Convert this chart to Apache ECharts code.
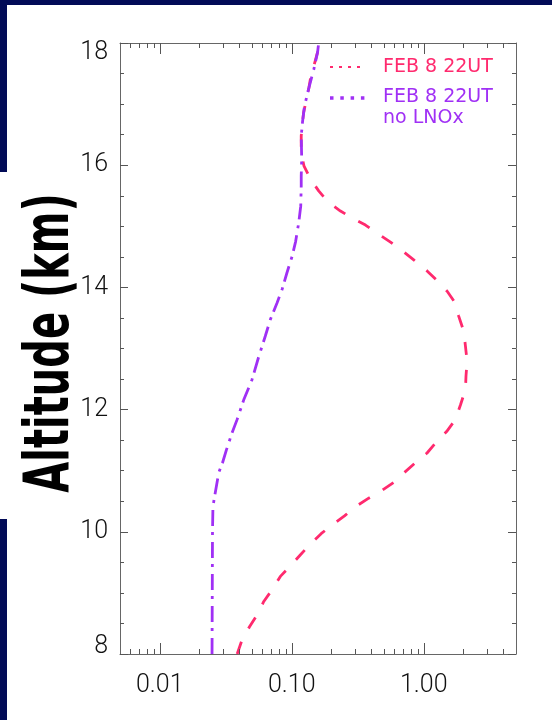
<!DOCTYPE html>
<html><head><meta charset="utf-8">
<script src="https://cdn.jsdelivr.net/npm/echarts@6/dist/echarts.min.js"></script>
<style>html,body{margin:0;padding:0;background:#fff}#c{width:552px;height:720px}</style>
</head><body><div id="c"></div>
<script>
// ---- data ----
const altWith = [8.0, 8.23, 8.45, 8.64, 8.86, 9.05, 9.27, 9.43, 9.62, 9.79, 9.97, 10.11, 10.26, 10.41, 10.55, 10.66, 10.81, 10.96, 11.13, 11.29, 11.48, 11.64, 11.84, 12.08, 12.33, 12.55, 12.79, 13.04, 13.28, 13.53, 13.78, 13.94, 14.12, 14.27, 14.45, 14.6, 14.74, 14.87, 15.02, 15.12, 15.25, 15.39, 15.58, 15.77, 15.99, 16.2, 16.48, 16.73, 16.86, 17.27, 17.43, 17.85, 18.0];
const valWith = [0.0386, 0.042, 0.048, 0.0547, 0.0614, 0.071, 0.082, 0.0966, 0.116, 0.137, 0.167, 0.202, 0.251, 0.304, 0.383, 0.47, 0.593, 0.705, 0.865, 1.06, 1.26, 1.49, 1.74, 1.90, 2.07, 2.09, 2.13, 2.07, 2.01, 1.84, 1.69, 1.50, 1.25, 1.06, 0.84, 0.686, 0.56, 0.456, 0.362, 0.295, 0.234, 0.19, 0.160, 0.139, 0.1237, 0.118, 0.118, 0.121, 0.123, 0.135, 0.139, 0.157, 0.160];
const altNo = [8.0, 9.0, 10.0, 10.41, 10.57, 10.97, 11.13, 11.34, 11.62, 11.84, 12.16, 12.49, 12.87, 13.2, 13.48, 13.75, 13.97, 14.24, 14.51, 14.75, 15.06, 15.33, 15.66, 15.82, 16.1, 16.48, 16.73, 16.97, 17.27, 17.57, 17.85, 18.0];
const valNo = [0.0249, 0.025, 0.0251, 0.0253, 0.026, 0.028, 0.0299, 0.032, 0.0353, 0.0386, 0.0433, 0.050, 0.0563, 0.063, 0.069, 0.0775, 0.0846, 0.092, 0.1007, 0.107, 0.113, 0.117, 0.118, 0.118, 0.119, 0.118, 0.121, 0.125, 0.135, 0.147, 0.157, 0.160];
const seriesNames = ['FEB 8 22UT', 'FEB 8 22UT\nno LNOx'];
const yTitle = 'Altitude (km)';
const xMajorTicks = [0.01, 0.1, 1];
const xTickLabels = ['0.01', '0.10', '1.00'];
const xMinorTicks = [0.006, 0.007, 0.008, 0.009, 0.02, 0.03, 0.04, 0.05, 0.06, 0.07, 0.08, 0.09, 0.2, 0.3, 0.4, 0.5, 0.6, 0.7, 0.8, 0.9, 2, 3, 4];
const xMin = 0.005, xMax = 5;
const yMin = 8, yMax = 18, yStep = 2;

// ---- style ----
const pink = '#ff2a6e', purple = '#a030f5', navy = '#020b57';
const axisColor = '#666', tickColor = '#555', labelColor = '#111';
const labelFont = 'Roboto';

function tickSeries(values, len) {
  return {
    type: 'custom', xAxisIndex: 0, yAxisIndex: 0, silent: true, clip: false, z: 3,
    data: values.map(v => [v]),
    encode: { x: 0 },
    renderItem: (params, api) => {
      const v = api.value(0);
      const b = api.coord([v, yMin]);
      const t = api.coord([v, yMax]);
      const x = Math.round(b[0]) + 0.5;
      return { type: 'group', children: [
        { type: 'line', shape: { x1: x, y1: b[1], x2: x, y2: b[1] - len }, style: { stroke: tickColor, lineWidth: 1 } },
        { type: 'line', shape: { x1: x, y1: t[1], x2: x, y2: t[1] + len }, style: { stroke: tickColor, lineWidth: 1 } }
      ] };
    }
  };
}

const labelStyle = { fontSize: 25, fontFamily: labelFont, fontWeight: 300, color: labelColor };
const yAxisBase = {
  type: 'value', min: yMin, max: yMax, interval: yStep,
  axisLine: { show: true, lineStyle: { color: axisColor, width: 1 } },
  axisTick: { show: true, inside: true, length: 8, lineStyle: { color: tickColor } },
  minorTick: { show: true, splitNumber: 4, length: 4, lineStyle: { color: tickColor } },
  splitLine: { show: false }, minorSplitLine: { show: false }
};
const xAxisBase = {
  type: 'log', logBase: 10, min: xMin, max: xMax,
  axisLine: { show: true, lineStyle: { color: axisColor, width: 1 } },
  axisTick: { show: false }, minorTick: { show: false },
  splitLine: { show: false }, minorSplitLine: { show: false }
};

const chart = echarts.init(document.getElementById('c'), null, { renderer: 'canvas' });
chart.setOption({
  animation: false,
  backgroundColor: '#fff',
  grid: { left: 120, right: 36, top: 43, bottom: 66, containLabel: false },
  xAxis: [
    Object.assign({}, xAxisBase, {
      position: 'bottom',
      axisLabel: Object.assign({}, labelStyle, {
        margin: 19, showMinLabel: false, showMaxLabel: false,
        formatter: v => {
          const i = xMajorTicks.findIndex(t => Math.abs(Math.log10(v) - Math.log10(t)) < 1e-6);
          return i >= 0 ? xTickLabels[i] : '';
        }
      })
    }),
    Object.assign({}, xAxisBase, { position: 'top', axisLabel: { show: false } })
  ],
  yAxis: [
    Object.assign({}, yAxisBase, {
      position: 'left',
      axisLabel: Object.assign({}, labelStyle, {
        margin: 12,
        formatter: v => v === yMax ? '{top|' + v + '}' : (v === yMin ? '{bot|' + v + '}' : String(v)),
        rich: {
          top: Object.assign({}, labelStyle, { padding: [20, 0, 0, 0] }),
          bot: Object.assign({}, labelStyle, { padding: [0, 0, 14, 0] })
        }
      })
    }),
    Object.assign({}, yAxisBase, { position: 'right', axisLabel: { show: false } })
  ],
  series: [
    {
      type: 'line', name: seriesNames[0], xAxisIndex: 0, yAxisIndex: 0, z: 2,
      data: valWith.map((v, i) => [v, altWith[i]]),
      symbol: 'none', showSymbol: false,
      lineStyle: { color: pink, width: 2.8, type: [13, 15], cap: 'butt' }
    },
    {
      type: 'line', name: seriesNames[1], xAxisIndex: 0, yAxisIndex: 0, z: 2,
      data: valNo.map((v, i) => [v, altNo[i]]),
      symbol: 'none', showSymbol: false,
      lineStyle: { color: purple, width: 2.8, type: [16, 7, 3, 6], cap: 'butt' }
    },
    tickSeries(xMajorTicks, 11),
    tickSeries(xMinorTicks, 5)
  ],
  graphic: [
    { type: 'rect', z: 100, shape: { x: 0, y: 0, width: 552, height: 5 }, style: { fill: navy } },
    { type: 'rect', z: 100, shape: { x: 0, y: 0, width: 7, height: 172 }, style: { fill: navy } },
    { type: 'rect', z: 100, shape: { x: 0, y: 519, width: 7, height: 201 }, style: { fill: navy } },
    { type: 'text', z: 100, x: 52, y: 343, rotation: Math.PI / 2, scaleX: 0.645, scaleY: 1,
      style: { text: yTitle, font: 'bold 62px "DejaVu Sans"', fill: '#000', textAlign: 'center', textVerticalAlign: 'middle' } },
    { type: 'line', z: 100, shape: { x1: 330, y1: 67, x2: 362, y2: 67 }, style: { stroke: pink, lineWidth: 2, lineDash: [3, 6] } },
    { type: 'line', z: 100, shape: { x1: 330, y1: 98, x2: 366, y2: 98 }, style: { stroke: purple, lineWidth: 3.5, lineDash: [3.5, 6.8] } },
    { type: 'text', z: 100, x: 383, y: 67.5,
      style: { text: seriesNames[0], fill: pink, font: '19px "DejaVu Sans"', textVerticalAlign: 'middle' } },
    { type: 'text', z: 100, x: 383, y: 87,
      style: { text: seriesNames[1], fill: purple, font: '19px "DejaVu Sans"', lineHeight: 21, textVerticalAlign: 'top' } }
  ]
});
</script>
</body></html>
